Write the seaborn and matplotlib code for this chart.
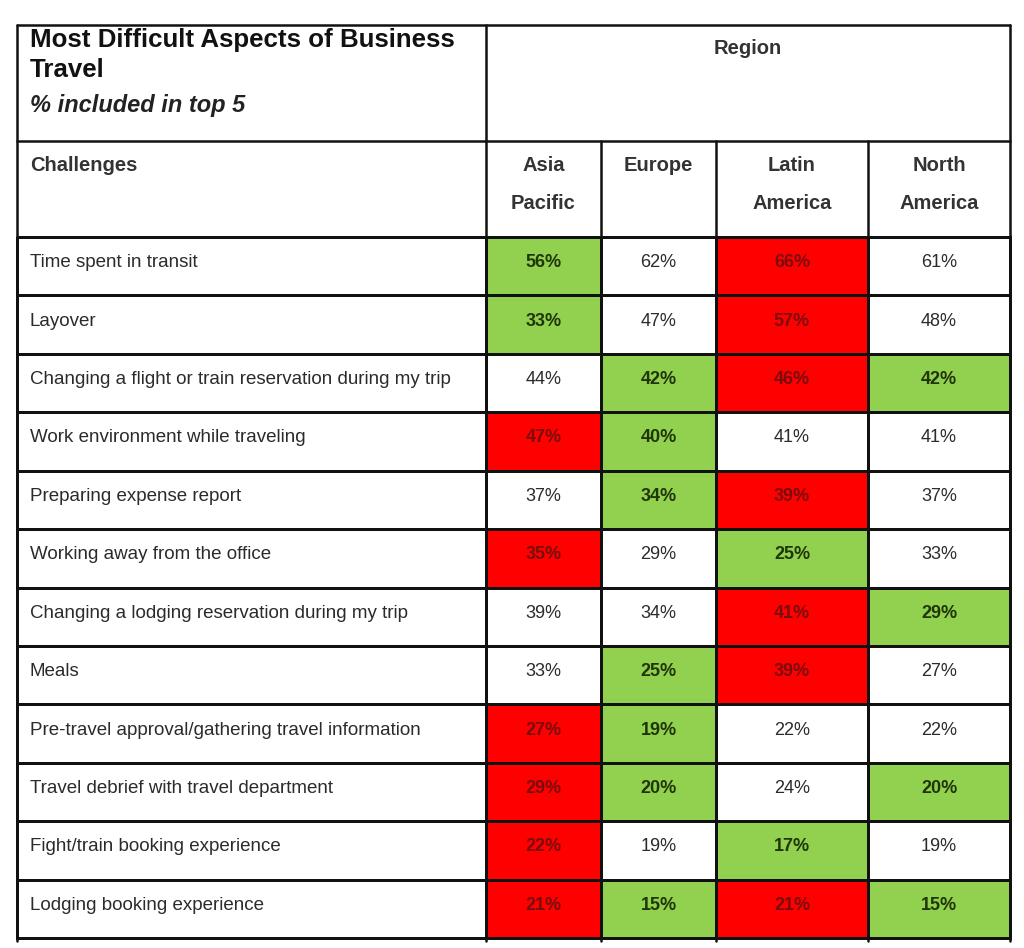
import numpy as np
import pandas as pd
import matplotlib
matplotlib.use("Agg")
import matplotlib.pyplot as plt
from matplotlib.colors import ListedColormap
import seaborn as sns

sns.set_theme(style="white")
plt.rcParams['font.family'] = ['Liberation Sans', 'DejaVu Sans']

# ---------------- data ----------------
challenges = [
    "Time spent in transit",
    "Layover",
    "Changing a flight or train reservation during my trip",
    "Work environment while traveling",
    "Preparing expense report",
    "Working away from the office",
    "Changing a lodging reservation during my trip",
    "Meals",
    "Pre-travel approval/gathering travel information",
    "Travel debrief with travel department",
    "Fight/train booking experience",
    "Lodging booking experience",
]
regions = ["Asia Pacific", "Europe", "Latin America", "North America"]
region_labels = ["Asia\nPacific", "Europe", "Latin\nAmerica", "North\nAmerica"]

asia_pacific = [56, 33, 44, 47, 37, 35, 39, 33, 27, 29, 22, 21]
europe = [62, 47, 42, 40, 34, 29, 34, 25, 19, 20, 19, 15]
latin_america = [66, 57, 46, 41, 39, 25, 41, 39, 22, 24, 17, 21]
north_america = [61, 48, 42, 41, 37, 33, 29, 27, 22, 20, 19, 15]

# highlight: 0 = none, 1 = green (lowest), 2 = red (highest)
hl_asia_pacific = [1, 1, 0, 2, 0, 2, 0, 0, 2, 2, 2, 2]
hl_europe = [0, 0, 1, 1, 1, 0, 0, 1, 1, 1, 0, 1]
hl_latin_america = [2, 2, 2, 0, 2, 1, 2, 2, 0, 0, 1, 2]
hl_north_america = [0, 0, 1, 0, 0, 0, 1, 0, 0, 1, 0, 1]

title_lines = ["Most Difficult Aspects of Business", "Travel"]
subtitle = "% included in top 5"
row_header = "Challenges"
col_group = "Region"

values = pd.DataFrame({"Asia Pacific": asia_pacific, "Europe": europe,
                       "Latin America": latin_america, "North America": north_america},
                      index=challenges)
highlight = pd.DataFrame({"Asia Pacific": hl_asia_pacific, "Europe": hl_europe,
                          "Latin America": hl_latin_america, "North America": hl_north_america},
                         index=challenges)

# ---------------- layout (pixels) ----------------
W, H = 1024, 948
fig = plt.figure(figsize=(W / 100, H / 100), dpi=100)
fig.patch.set_facecolor("white")

x_edges = [17, 486, 601, 716, 868, 1010]
y_top, y_hdr, y_body, y_bot = 25, 141, 237, 938
LW = 1.8

def fig_rect(x0, x1, y0, y1):
    return [x0 / W, 1 - y1 / H, (x1 - x0) / W, (y1 - y0) / H]

cmap = ListedColormap(["white", "#92D050", "#FF0000"])
txt_color = {0: "#2b2b2b", 1: "#1f3608", 2: "#7a0c0c"}
txt_weight = {0: "normal", 1: "bold", 2: "bold"}

# challenges column (white cells)
ax0 = fig.add_axes(fig_rect(x_edges[0], x_edges[1], y_body, y_bot))
sns.heatmap(pd.DataFrame({"c": np.zeros(len(challenges))}, index=challenges),
            cmap=cmap, vmin=-0.5, vmax=2.5, cbar=False, linewidths=LW,
            linecolor="#111111", ax=ax0)
ax0.collections[0].set_clip_on(False)
for i, lab in enumerate(challenges):
    ax0.text(0.027, i + 0.44, lab, ha="left", va="center", fontsize=13.5,
             color="#2b2b2b")
ax0.set_xticks([]); ax0.set_yticks([])
ax0.set_xlabel(""); ax0.set_ylabel("")

# region columns
for j, reg in enumerate(regions):
    ax = fig.add_axes(fig_rect(x_edges[j + 1], x_edges[j + 2], y_body, y_bot))
    sns.heatmap(highlight[[reg]], cmap=cmap, vmin=-0.5, vmax=2.5, cbar=False,
                linewidths=LW, linecolor="#111111", ax=ax)
    ax.collections[0].set_clip_on(False)
    for i, v in enumerate(values[reg]):
        h = highlight[reg].iloc[i]
        ax.text(0.5, i + 0.44, f"{v}%", ha="center", va="center",
                fontsize=13, color=txt_color[h], fontweight=txt_weight[h])
    ax.set_xticks([]); ax.set_yticks([])
    ax.set_xlabel(""); ax.set_ylabel("")

# header overlay in pixel coordinates
hx = fig.add_axes([0, 0, 1, 1], facecolor="none")
hx.set_xlim(0, W); hx.set_ylim(H, 0); hx.axis("off")
lc = "#111111"
hx.plot([x_edges[0], x_edges[-1]], [y_top, y_top], color=lc, lw=LW)
hx.plot([x_edges[0], x_edges[-1]], [y_hdr, y_hdr], color=lc, lw=LW)
hx.plot([x_edges[0], x_edges[-1]], [y_body, y_body], color=lc, lw=LW)
hx.plot([x_edges[0], x_edges[0]], [y_top, y_bot + 3], color=lc, lw=LW)
hx.plot([x_edges[1], x_edges[1]], [y_top, y_bot + 3], color=lc, lw=LW)
hx.plot([x_edges[-1], x_edges[-1]], [y_top, y_bot + 3], color=lc, lw=LW)
for xe in x_edges[2:-1]:
    hx.plot([xe, xe], [y_hdr, y_bot + 3], color=lc, lw=LW)

for k, line in enumerate(title_lines):
    hx.text(30, 40 + 30 * k, line, ha="left", va="center", fontsize=18.6,
            fontweight="bold", color="#111111")
hx.text(30, 105, subtitle, ha="left", va="center", fontsize=17,
        fontweight="bold", fontstyle="italic", color="#222222")
hx.text(30, 165, row_header, ha="left", va="center", fontsize=14.5,
        fontweight="bold", color="#333333")
hx.text((x_edges[1] + x_edges[-1]) / 2, 48, col_group, ha="center",
        va="center", fontsize=14.5, fontweight="bold", color="#333333")
for j, lab in enumerate(region_labels):
    cx = (x_edges[j + 1] + x_edges[j + 2]) / 2
    for k, part in enumerate(lab.split("\n")):
        hx.text(cx, 165 + 38 * k, part, ha="center", va="center",
                fontsize=14.5, fontweight="bold", color="#333333")

fig.savefig("out.png", dpi=100, facecolor="white")
